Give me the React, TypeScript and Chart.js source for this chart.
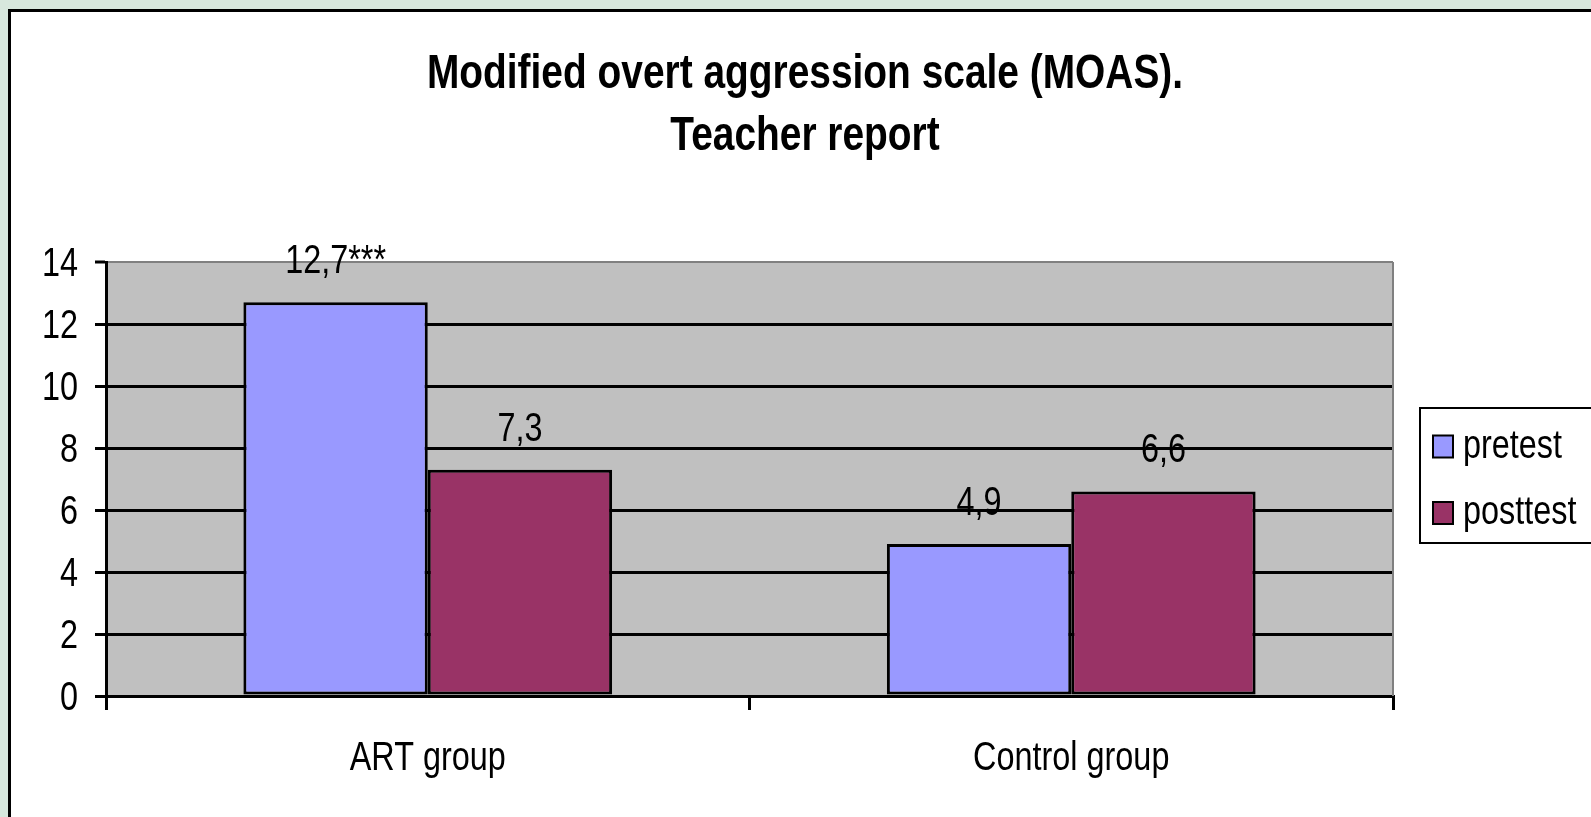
import React, { useEffect, useRef } from 'react';
import { Chart, registerables } from 'chart.js';

Chart.register(...registerables);

const TITLE_LINES = ['Modified overt aggression scale (MOAS).', 'Teacher report'];
const CATEGORIES = ['ART group', 'Control group'];
const SERIES_NAMES = ['pretest', 'posttest'];
const PRETEST = [12.7, 4.9];
const POSTTEST = [7.3, 6.6];
const PRETEST_MARKS = ['***', ''];
const POSTTEST_MARKS = ['', ''];
const Y_MIN = 0;
const Y_MAX = 14;
const Y_STEP = 2;

const COLORS = ['#9999FF', '#993366'];
const FONT = "'Liberation Sans', Arial, sans-serif";
const SQUEEZE = 0.81;
const W = 1591;
const H = 817;

const fmt = (v: number) => String(v).replace('.', ',');

function drawText(ctx: CanvasRenderingContext2D, text: string, x: number, y: number, align: CanvasTextAlign, font: string) {
  ctx.save();
  ctx.translate(x, y);
  ctx.scale(SQUEEZE, 1);
  ctx.font = font;
  ctx.fillStyle = '#000';
  ctx.textAlign = align;
  ctx.textBaseline = 'alphabetic';
  ctx.fillText(text, 0, 0);
  ctx.restore();
}

const plotPlugin = {
  id: 'plotDecor',
  beforeDraw(chart: any) {
    const { ctx, chartArea: a } = chart;
    ctx.save();
    ctx.fillStyle = '#C0C0C0';
    ctx.fillRect(a.left, a.top, a.right - a.left, a.bottom - a.top);
    ctx.restore();
  },
  beforeDatasetsDraw(chart: any) {
    const { ctx, chartArea: a } = chart;
    ctx.save();
    ctx.strokeStyle = '#808080';
    ctx.lineWidth = 2;
    ctx.beginPath();
    ctx.moveTo(a.right, a.top);
    ctx.lineTo(a.right, a.bottom);
    ctx.stroke();
    ctx.restore();
  },
  afterDatasetsDraw(chart: any) {
    const { ctx } = chart;
    const marks = [PRETEST_MARKS, POSTTEST_MARKS];
    chart.data.datasets.forEach((ds: any, di: number) => {
      const meta = chart.getDatasetMeta(di);
      meta.data.forEach((bar: any, i: number) => {
        const text = fmt(ds.data[i]) + (marks[di][i] || '');
        drawText(ctx, text, bar.x, bar.y - 29, 'center', `40px ${FONT}`);
      });
    });
  },
  afterDraw(chart: any) {
    const { ctx } = chart;
    // axis labels
    const ys = chart.scales.y;
    ys.ticks.forEach((t: any) => {
      const py = ys.getPixelForValue(t.value);
      drawText(ctx, String(t.label), 78, py + 14, 'right', `40px ${FONT}`);
    });
    const xs = chart.scales.x;
    xs.ticks.forEach((t: any, i: number) => {
      const px = xs.getPixelForTick(i);
      drawText(ctx, String(t.label), px, 770, 'center', `40px ${FONT}`);
    });
    // title
    TITLE_LINES.forEach((line, i) => {
      drawText(ctx, line, 805, 88 + i * 62, 'center', `bold 48px ${FONT}`);
    });
    // legend
    const lx = 1420;
    const ly = 408;
    ctx.save();
    ctx.fillStyle = '#fff';
    ctx.fillRect(lx, ly, 300, 135);
    ctx.strokeStyle = '#000';
    ctx.lineWidth = 2;
    ctx.strokeRect(lx, ly, 300, 135);
    ctx.restore();
    chart.data.datasets.forEach((ds: any, di: number) => {
      const cy = 446.5 + di * 66.5;
      ctx.save();
      ctx.fillStyle = ds.backgroundColor;
      ctx.fillRect(lx + 13, cy - 11, 20, 22);
      ctx.strokeStyle = '#000';
      ctx.lineWidth = 2;
      ctx.strokeRect(lx + 13, cy - 11, 20, 22);
      ctx.restore();
      drawText(ctx, ds.label, lx + 43, cy + 11, 'left', `40px ${FONT}`);
    });
  },
};

export default function App() {
  const ref = useRef<HTMLCanvasElement | null>(null);

  useEffect(() => {
    if (!ref.current) return;
    const chart = new Chart(ref.current, {
      type: 'bar',
      data: {
        labels: CATEGORIES,
        datasets: [
          {
            label: SERIES_NAMES[0],
            data: PRETEST,
            backgroundColor: COLORS[0],
            borderColor: '#000',
            borderWidth: 3,
            borderSkipped: false,
            categoryPercentage: 0.573,
            barPercentage: 1,
          },
          {
            label: SERIES_NAMES[1],
            data: POSTTEST,
            backgroundColor: COLORS[1],
            borderColor: '#000',
            borderWidth: 3,
            borderSkipped: false,
            categoryPercentage: 0.573,
            barPercentage: 1,
          },
        ],
      },
      options: {
        responsive: false,
        devicePixelRatio: 1,
        animation: false,
        layout: { padding: { top: 262, right: 198, bottom: 0, left: 0 } },
        plugins: {
          legend: { display: false },
          title: { display: false },
          tooltip: { enabled: false },
        },
        scales: {
          x: {
            afterFit(scale: any) {
              scale.height = 121;
            },
            grid: {
              drawOnChartArea: false,
              drawTicks: true,
              tickLength: 14,
              color: '#000',
              tickColor: '#000',
              lineWidth: 3,
              offset: true,
            },
            border: { display: true, color: '#000', width: 3 },
            ticks: { display: false, maxRotation: 0 },
          },
          y: {
            min: Y_MIN,
            max: Y_MAX,
            afterFit(scale: any) {
              scale.width = 106;
            },
            grid: {
              drawTicks: true,
              tickLength: 11,
              color: (c: any) => (c.tick && c.tick.value === Y_MAX ? '#808080' : '#000'),
              lineWidth: (c: any) => (c.tick && c.tick.value === Y_MAX ? 2 : 3),
              tickColor: '#000',
              tickWidth: 3,
            },
            border: { display: true, color: '#000', width: 3 },
            ticks: { display: false, stepSize: Y_STEP },
          },
        },
      },
      plugins: [plotPlugin],
    });
    return () => chart.destroy();
  }, []);

  return (
    <div
      style={{
        position: 'fixed',
        left: 0,
        top: 0,
        width: '100vw',
        height: '100vh',
        overflow: 'hidden',
        background: '#D7E7DD',
      }}
    >
      <div
        style={{
          position: 'absolute',
          left: 8,
          top: 9,
          width: 1700,
          height: 1000,
          border: '3px solid #000',
          background: '#fff',
          boxSizing: 'border-box',
        }}
      />
      <canvas
        ref={ref}
        width={W}
        height={H}
        style={{ position: 'absolute', left: 0, top: 0, width: `${W}px`, height: `${H}px` }}
      />
    </div>
  );
}
